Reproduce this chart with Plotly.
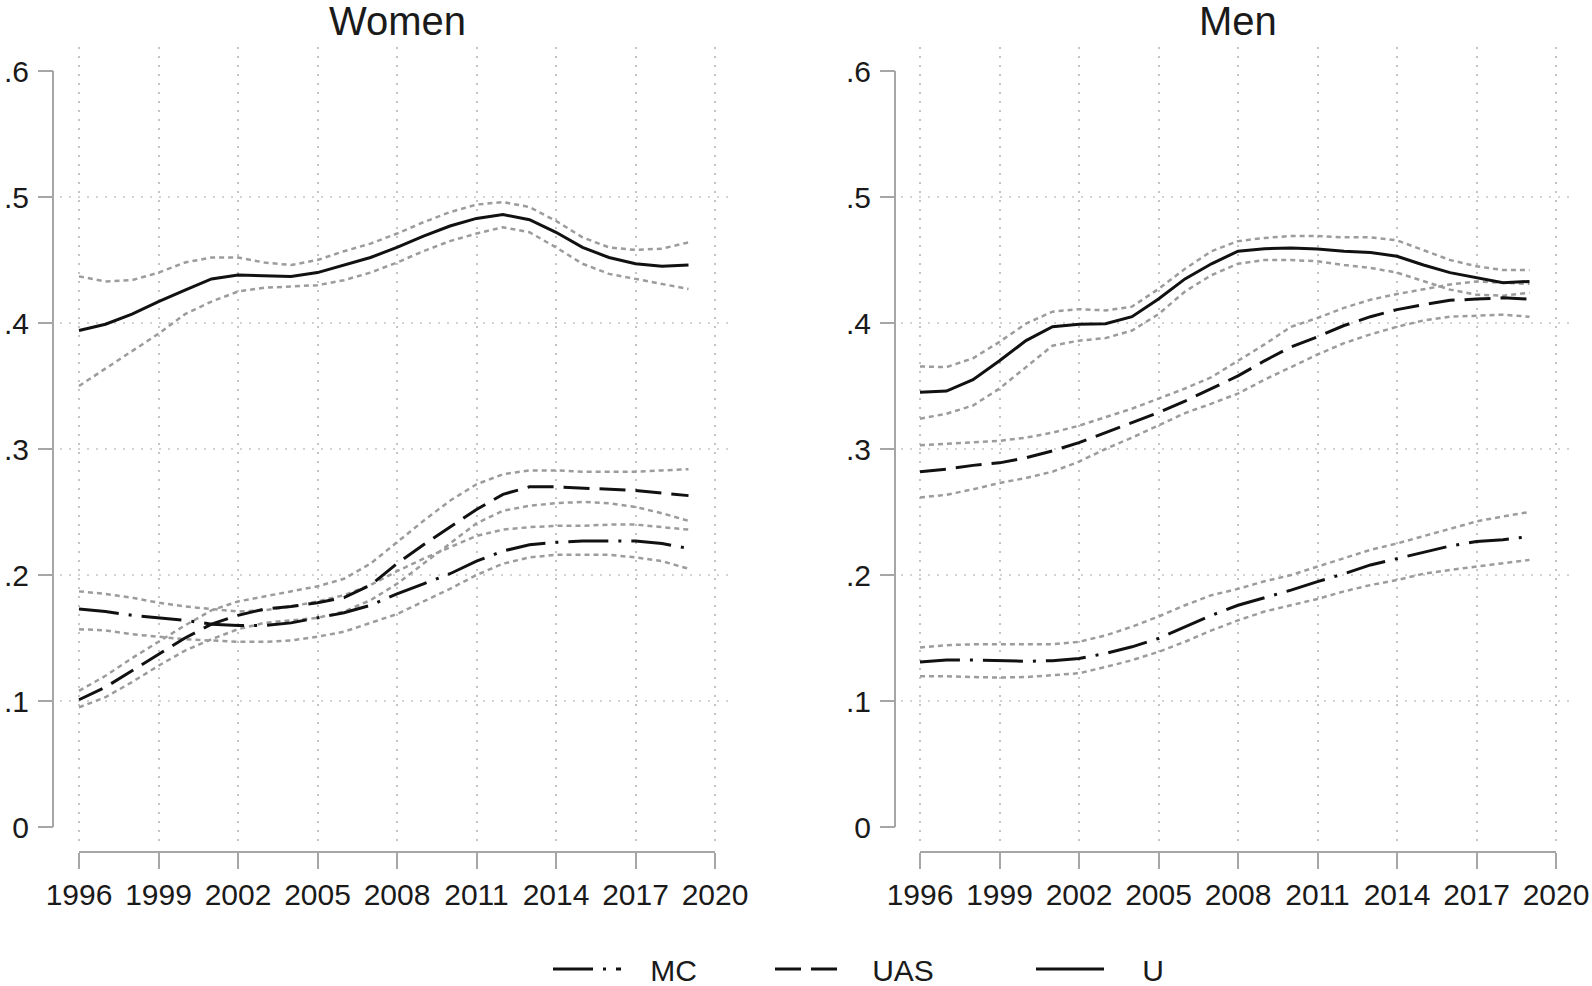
import plotly.graph_objects as go

years = list(range(1996, 2020))
xticks = [1996, 1999, 2002, 2005, 2008, 2011, 2014, 2017, 2020]
yticks = [0, 0.1, 0.2, 0.3, 0.4, 0.5, 0.6]
ytick_text = ["0", ".1", ".2", ".3", ".4", ".5", ".6"]
grid_y = [0.1, 0.2, 0.3, 0.4, 0.5]

# Women
w_u = [.394, .399, .407, .417, .426, .435, .438, .4375, .437, .440, .446, .452, .460, .469, .477, .483, .486, .482, .472, .460, .452, .447, .445, .446]
w_u_hi = [.437, .433, .434, .440, .448, .452, .452, .448, .446, .450, .457, .463, .471, .480, .488, .494, .496, .492, .481, .468, .460, .458, .459, .464]
w_u_lo = [.350, .364, .378, .3915, .407, .417, .425, .428, .429, .430, .434, .440, .448, .457, .465, .471, .476, .472, .460, .447, .439, .435, .431, .427]
w_uas = [.101, .111, .124, .137, .150, .161, .168, .173, .175, .178, .182, .192, .209, .224, .238, .252, .264, .270, .270, .269, .268, .267, .265, .263]
w_uas_hi = [.108, .120, .134, .147, .160, .172, .179, .183, .187, .191, .197, .209, .226, .243, .259, .272, .280, .283, .283, .282, .282, .282, .283, .284]
w_uas_lo = [.095, .103, .115, .128, .140, .149, .157, .162, .164, .166, .171, .180, .193, .209, .225, .241, .251, .255, .257, .258, .257, .254, .249, .243]
w_mc = [.173, .171, .168, .166, .164, .161, .160, .160, .162, .166, .170, .176, .185, .193, .201, .211, .219, .224, .226, .227, .227, .227, .225, .221]
w_mc_hi = [.187, .185, .182, .178, .175, .173, .171, .172, .175, .179, .184, .192, .203, .213, .222, .231, .236, .238, .239, .239, .240, .240, .238, .236]
w_mc_lo = [.157, .156, .153, .151, .149, .148, .147, .147, .148, .151, .155, .162, .169, .179, .189, .200, .209, .214, .216, .216, .216, .214, .211, .205]

# Men
m_u = [.345, .346, .355, .370, .386, .397, .399, .3995, .405, .419, .435, .447, .457, .459, .4595, .4587, .457, .456, .453, .446, .440, .4357, .432, .433]
m_u_hi = [.3655, .365, .372, .385, .3995, .409, .411, .410, .413, .427, .443, .457, .465, .4675, .469, .469, .468, .468, .4656, .458, .450, .445, .442, .442]
m_u_lo = [.324, .328, .3345, .348, .365, .382, .386, .388, .394, .407, .425, .438, .447, .450, .450, .449, .446, .4437, .440, .433, .4265, .4225, .4217, .424]
m_uas = [.282, .284, .287, .289, .293, .2985, .305, .313, .321, .329, .338, .348, .358, .370, .381, .389, .398, .405, .4106, .4145, .418, .419, .420, .419]
m_uas_hi = [.303, .304, .305, .3065, .309, .313, .3185, .325, .332, .340, .348, .357, .370, .383, .397, .404, .412, .4185, .423, .427, .4305, .433, .432, .431]
m_uas_lo = [.2615, .2637, .268, .273, .277, .282, .290, .300, .309, .319, .3285, .336, .344, .355, .365, .375, .384, .391, .397, .402, .405, .406, .4066, .405]
m_mc = [.131, .1325, .1325, .132, .1315, .132, .1337, .1377, .143, .1496, .159, .168, .176, .182, .188, .1947, .201, .208, .213, .2185, .223, .2265, .228, .2305]
m_mc_hi = [.1425, .1443, .145, .145, .145, .145, .147, .152, .159, .167, .176, .184, .189, .195, .200, .2066, .213, .220, .225, .231, .237, .2425, .2465, .250]
m_mc_lo = [.1196, .1196, .119, .1186, .119, .1205, .122, .127, .1324, .139, .147, .156, .164, .171, .176, .181, .187, .192, .196, .201, .204, .2066, .209, .212]

panel_titles = ["Women", "Men"]
series_names = ["MC", "UAS", "U"]

W, H = 1592, 986
FONT = "Liberation Sans, Arial, sans-serif"
TXT = "#1a1a1a"
AXC = "#a6a6a6"
GRIDC = "#c4c4c4"
CIC = "#9c9c9c"
BLK = "#111111"

dash_main = {"MC": "40px,10px,3px,10px", "UAS": "26px,10px", "U": "solid"}
legend_ids = {"MC": "legend", "UAS": "legend2", "U": "legend3"}
# leading spacing between the legend key and its label
legend_pad = {"MC": "\u2007\u2005", "UAS": "\u2007\u2005", "U": "\u2007\u2007"}

panels = [
    dict(xa="x", ya="y", title=panel_titles[0],
         series={"MC": (w_mc, w_mc_lo, w_mc_hi), "UAS": (w_uas, w_uas_lo, w_uas_hi), "U": (w_u, w_u_lo, w_u_hi)},
         plot_px=(60, 734), yline_px=53, legend=True),
    dict(xa="x2", ya="y2", title=panel_titles[1],
         series={"MC": (m_mc, m_mc_lo, m_mc_hi), "UAS": (m_uas, m_uas_lo, m_uas_hi), "U": (m_u, m_u_lo, m_u_hi)},
         plot_px=(901, 1575), yline_px=895, legend=False),
]

fig = go.Figure()

PX_PER_YEAR = 26.5
PLOT_TOP, PLOT_BOT = 47, 843
XAXIS_Y = 852
y0_px, y6_px = 827, 71
ppu = (y0_px - y6_px) / 0.6
y_range = [-(PLOT_BOT - y0_px) / ppu, 0.6 + (y6_px - PLOT_TOP) / ppu]
y_domain = [1 - PLOT_BOT / H, 1 - PLOT_TOP / H]

shapes = []
annotations = []
for i, p in enumerate(panels):
    for name in series_names:
        mid, lo, hi = p["series"][name]
        for band in (lo, hi):
            fig.add_trace(go.Scatter(x=years, y=band, mode="lines", xaxis=p["xa"], yaxis=p["ya"],
                                     line=dict(color=CIC, width=2.5, dash="5px,4px"),
                                     showlegend=False, hoverinfo="skip"))
    for name in series_names:
        mid, lo, hi = p["series"][name]
        fig.add_trace(go.Scatter(x=years, y=mid, mode="lines", xaxis=p["xa"], yaxis=p["ya"],
                                 name=legend_pad[name] + name,
                                 line=dict(color=BLK, width=3, dash=dash_main[name]),
                                 showlegend=p["legend"], legend=legend_ids[name]))
    l, r = p["plot_px"]
    x_first_px = l + 19
    xr = [xticks[0] - (x_first_px - l) / PX_PER_YEAR, xticks[-1] + 19 / PX_PER_YEAR]
    sfx = "" if i == 0 else "2"
    fig.layout["xaxis" + sfx] = dict(
        domain=[l / W, r / W], range=xr, anchor="free", position=1 - XAXIS_Y / H,
        tickmode="array", tickvals=xticks, ticks="outside", ticklen=16, tickwidth=2, tickcolor=AXC,
        showline=False, zeroline=False, showgrid=True, gridcolor=GRIDC, gridwidth=1.5, griddash="2px,7px",
        tickfont=dict(family=FONT, size=30, color=TXT), fixedrange=True, automargin=False)
    fig.layout["yaxis" + sfx] = dict(
        domain=y_domain, range=y_range, anchor="free", position=p["yline_px"] / W,
        tickmode="array", tickvals=yticks, ticktext=ytick_text, ticks="outside", ticklen=15, tickwidth=2,
        tickcolor=AXC, showline=False, zeroline=False, showgrid=False, ticklabelstandoff=3,
        tickfont=dict(family=FONT, size=30, color=TXT), fixedrange=True, automargin=False)
    shapes.append(dict(type="line", xref="paper", yref=p["ya"], x0=p["yline_px"] / W, x1=p["yline_px"] / W,
                       y0=yticks[0], y1=yticks[-1], line=dict(color=AXC, width=2)))
    shapes.append(dict(type="line", xref=p["xa"], yref="paper", x0=xticks[0], x1=xticks[-1],
                       y0=1 - XAXIS_Y / H, y1=1 - XAXIS_Y / H, line=dict(color=AXC, width=2)))
    for gy in grid_y:
        shapes.append(dict(type="line", xref=p["xa"] + " domain", yref=p["ya"], x0=0, x1=1, y0=gy, y1=gy,
                           layer="below", line=dict(color=GRIDC, width=1.5, dash="2px,7px")))
    annotations.append(dict(text=p["title"], xref=p["xa"], yref="paper", x=(xticks[0] + xticks[-1]) / 2,
                            y=1.0 + 3 / H, xanchor="center", yanchor="top", showarrow=False,
                            font=dict(family=FONT, size=40, color=TXT)))

leg_common = dict(orientation="h", xanchor="left", yanchor="middle", yref="paper", xref="paper",
                  bgcolor="rgba(0,0,0,0)", borderwidth=0, itemwidth=68,
                  font=dict(family=FONT, size=30, color=TXT))
fig.update_layout(
    width=W, height=H, margin=dict(l=0, r=0, t=0, b=0, autoexpand=False),
    paper_bgcolor="white", plot_bgcolor="white",
    shapes=shapes, annotations=annotations,
    legend=dict(x=548 / W, y=1 - 969 / H, **leg_common),
    legend2=dict(x=770 / W, y=1 - 969 / H, **leg_common),
    legend3=dict(x=1031 / W, y=1 - 969 / H, **leg_common),
    hovermode=False,
)

fig.write_html("out.html", config={"displayModeBar": False},
               post_script="document.body.style.margin='0';")
